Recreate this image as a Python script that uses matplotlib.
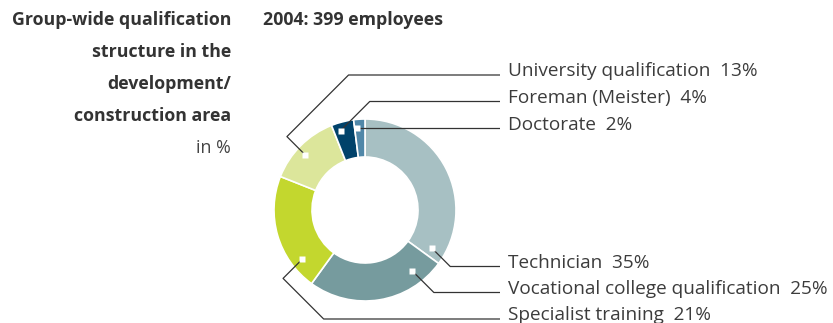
import matplotlib
matplotlib.use("Agg")
import numpy as np
import matplotlib.pyplot as plt

# qualification shares, clockwise from 12 o'clock
categories = ["Technician", "Vocational college qualification", "Specialist training",
              "University qualification", "Foreman (Meister)", "Doctorate"]
shares = [35, 25, 21, 13, 4, 2]
colors = ["#a7c0c3", "#769b9e", "#c3d72e", "#dce69b", "#00426a", "#5087a8"]

# where the small square sits inside each wedge (fraction of the wedge span)
marker_frac = [0.95, 0.18, 0.21, 0.45, 0.31, 0.22]
marker_r = [77, 77, 80, 81, 83, 82]
# y (pixels from top) of each horizontal leader line
line_y = [266.5, 292.5, 319, 75, 101.5, 128.5]
# sideways detour before the leader climbs/descends
detour = [0, 0, 19, 18.5, 0, 0]

W, H = 833, 323
cx, cy, R = 365, 210, 91
line_end = 500
text_x = 508

fig = plt.figure(figsize=(W / 100, H / 100), dpi=100)
ax = fig.add_axes([0, 0, 1, 1])

ax.pie(shares, colors=colors, startangle=90, counterclock=False, radius=R,
       center=(cx, H - cy),
       wedgeprops=dict(width=38, edgecolor="white", linewidth=1.2))
ax.set_xlim(0, W)
ax.set_ylim(0, H)
ax.set_aspect("equal")
ax.axis("off")

font = "Open Sans"
txt = "#3c3c3c"
cum = 0
for name, v, f, r, ly, d in zip(categories, shares, marker_frac, marker_r, line_y, detour):
    ang = np.deg2rad(90 - 3.6 * (cum + f * v))
    cum += v
    mx = cx + r * np.cos(ang)
    my = cy - r * np.sin(ang)  # pixel coords, y down
    pts = [(mx, my)]
    x, y = mx, my
    up = ly < my
    if d:
        x, y = x - d, y + (-d if up else d)
        pts.append((x, y))
    dy = abs(ly - y)
    pts.append((x + dy, ly))
    pts.append((line_end, ly))
    xs = [p[0] for p in pts]
    ys = [H - p[1] for p in pts]
    ax.plot(xs, ys, color="#333333", lw=0.9, solid_capstyle="butt", zorder=3)
    ax.plot(mx, H - my, marker="s", ms=4.2, mfc="white", mec="none", zorder=4)
    ax.text(text_x, H - ly - 1.5, f"{name}  {v}%", fontsize=13.7, family=font,
            color=txt, ha="left", va="baseline")

title_lines = ["Group-wide qualification", "structure in the", "development/",
               "construction area"]
for i, t in enumerate(title_lines):
    ax.text(231, H - (20 + 32 * i), t, fontsize=12.8, family=font, weight="bold",
            color="#333333", ha="right", va="center")
ax.text(231, H - 148, "in %", fontsize=12.8, family=font, color="#444444",
        ha="right", va="center")
ax.text(263, H - 20, "2004: 399 employees", fontsize=12.8, family=font,
        weight="bold", color="#333333", ha="left", va="center")

fig.savefig("out.png", dpi=100)
